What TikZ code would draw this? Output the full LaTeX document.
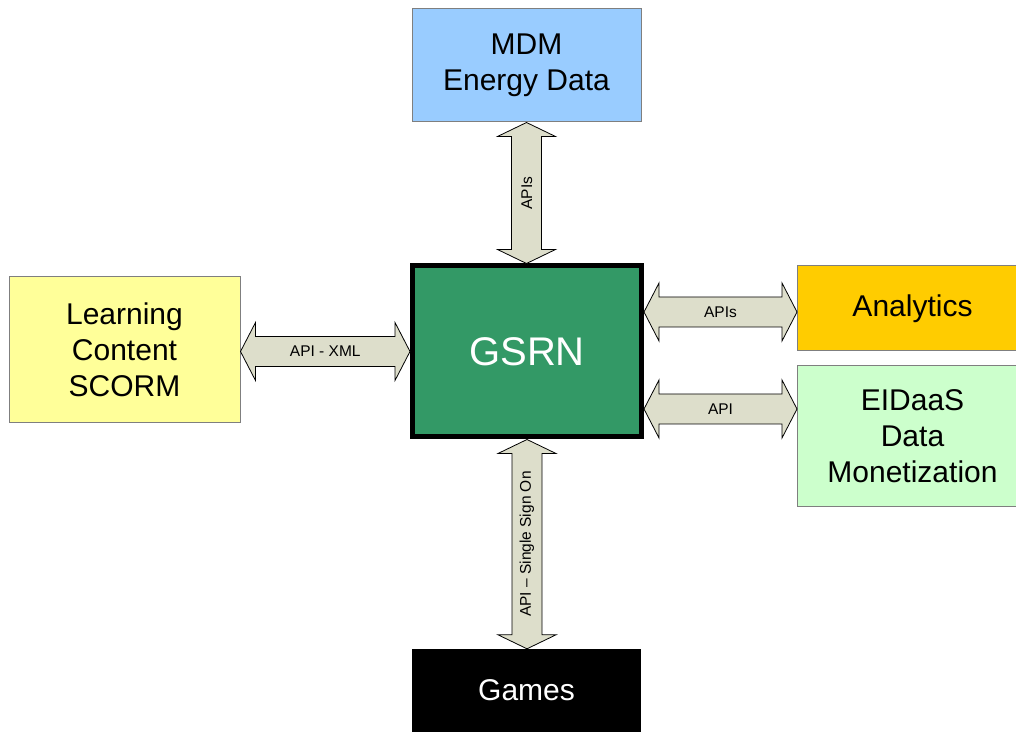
\documentclass[tikz,border=0pt]{standalone}
\usepackage{fontspec}
\setmainfont{Liberation Sans}
\usetikzlibrary{calc}
\definecolor{mdmblue}{HTML}{99CCFF}
\definecolor{gsrngreen}{HTML}{339966}
\definecolor{learnyellow}{HTML}{FFFF99}
\definecolor{anaorange}{HTML}{FFCC00}
\definecolor{eidgreen}{HTML}{CCFFCC}
\definecolor{boxgray}{HTML}{7F7F7F}
\definecolor{arrowfill}{RGB}{221,222,203}
\tikzset{
  box/.style={draw=boxgray, line width=1pt, align=center, inner sep=0pt,
    font=\fontsize{30}{36}\selectfont},
  darr/.style={draw=black, line width=0.8pt, fill=arrowfill, line join=miter},
  alabel/.style={font=\fontsize{15.5}{18}\selectfont, inner sep=0pt}
}
% horizontal double arrow between two points of equal height
\newcommand\hdbl[3]{%
  \draw[darr] let \p1=(#1), \p2=(#2) in
    (\x1,\y1) -- (\x1+15pt,\y1+29pt) -- (\x1+15pt,\y1+15pt) -- (\x2-15pt,\y1+15pt)
    -- (\x2-15pt,\y1+29pt) -- (\x2,\y1) -- (\x2-15pt,\y1-29pt) -- (\x2-15pt,\y1-15pt)
    -- (\x1+15pt,\y1-15pt) -- (\x1+15pt,\y1-29pt) -- cycle;
  \node[alabel] at ($(#1)!0.5!(#2)$) {#3};
}
% vertical double arrow from an upper point down to a lower one
\newcommand\vdbl[3]{%
  \draw[darr] let \p1=(#1), \p2=(#2) in
    (\x1,\y1) -- (\x1+29pt,\y1-14pt) -- (\x1+15pt,\y1-14pt) -- (\x1+15pt,\y2+14pt)
    -- (\x1+29pt,\y2+14pt) -- (\x1,\y2) -- (\x1-29pt,\y2+14pt) -- (\x1-15pt,\y2+14pt)
    -- (\x1-15pt,\y1-14pt) -- (\x1-29pt,\y1-14pt) -- cycle;
  \node[alabel, rotate=90] at ($(#1)!0.5!(#2)$) {#3};
}
\begin{document}
\begin{tikzpicture}[x=1pt,y=1pt]
\useasboundingbox (0,0) rectangle (1016,731);

\node[box, fill=mdmblue, minimum width=229pt, minimum height=113pt] (mdm)
  at (526.5,665.5) {MDM\\Energy Data};
\node[draw=black, line width=5pt, fill=gsrngreen, minimum width=229pt,
  minimum height=171pt, inner sep=0pt, text=white, font=\fontsize{40}{48}\selectfont]
  (gsrn) at (527,379.5) {GSRN};
\node[box, fill=learnyellow, minimum width=231pt, minimum height=146pt] (learn)
  at (124.5,381) {Learning\\Content\\SCORM};
\node[box, fill=anaorange, minimum width=230pt, minimum height=85pt, anchor=west] (ana)
  at (797,422.5) {Analytics};
\node[box, fill=eidgreen, minimum width=230pt, minimum height=140pt, anchor=west] (eid)
  at (797,295) {EIDaaS\\Data\\Monetization};
\node[fill=black, minimum width=229pt, minimum height=88pt, inner sep=0pt,
  text=white, font=\fontsize{30}{36}\selectfont] (games) at (526.5,38) {\raisebox{5pt}{Games}};

% connector end points
\coordinate (ga) at (gsrn.east |- 0,419);
\coordinate (aa) at (ana.west |- 0,419);
\coordinate (ge) at (gsrn.east |- 0,322);
\coordinate (ee) at (eid.west |- 0,322);
\coordinate (lg) at (learn.east |- gsrn.center);
\coordinate (gl) at (gsrn.west);

\vdbl{mdm.south}{gsrn.north}{APIs}
\hdbl{lg}{gl}{API - XML}
\hdbl{ga}{aa}{APIs}
\hdbl{ge}{ee}{API}
\vdbl{gsrn.south}{games.north}{API -- Single Sign On}
\end{tikzpicture}
\end{document}
